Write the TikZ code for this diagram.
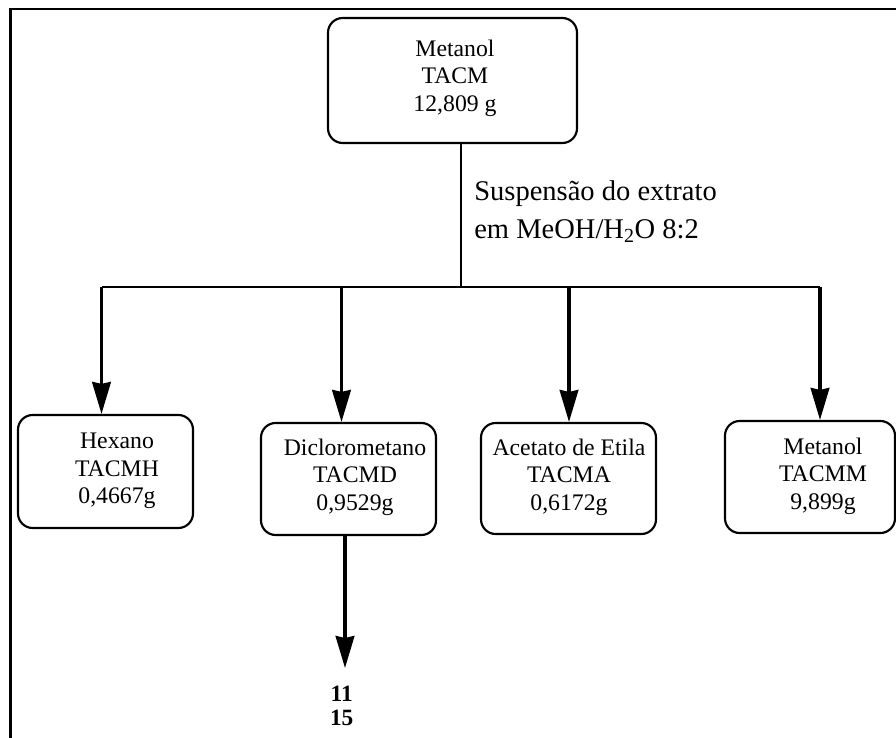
\documentclass[tikz,border=0pt]{standalone}
\usepackage{fontspec}
\setmainfont{Liberation Serif}
\usetikzlibrary{arrows.meta}
\begin{document}
\begin{tikzpicture}[x=0.75pt,y=-0.75pt,
  box/.style={draw, line width=1.6pt, rounded corners=11pt, inner sep=0pt, rectangle},
  boxtext/.style={align=center, font=\fontsize{17.8}{20.5}\selectfont, inner sep=0pt},
  conn/.style={line width=1.7pt},
  arr/.style={line width=2.4pt, -{Stealth[length=24pt,width=14pt,inset=1.5pt]}},
]
\useasboundingbox (0,0) rectangle (896,738);
\draw[line width=2pt] (10.5,738) -- (10.5,9) -- (896,9);

% boxes
\node[box, minimum width=186.75pt, minimum height=93.75pt] (top) at (452.5,80.5) {};
\node[boxtext] (toptxt) at (455,78) {Metanol\\TACM\\12,809 g};

\node[box, minimum width=131.25pt, minimum height=84.75pt] (hx) at (105.5,471.5) {};
\node[boxtext] (hxtxt) at (117,471) {Hexano\\TACMH\\0,4667g};

\node[box, minimum width=131.25pt, minimum height=84pt] (dc) at (348.5,479) {};
\node[boxtext] (dctxt) at (355,477) {Diclorometano\\TACMD\\0,9529g};

\node[box, minimum width=131.25pt, minimum height=83.25pt] (ac) at (568.5,478.5) {};
\node[boxtext] (actxt) at (569,477) {Acetato de Etila\\TACMA\\0,6172g};

\node[box, minimum width=127.5pt, minimum height=84pt] (me) at (810,477) {};
\node[boxtext] (metxt) at (823,476) {Metanol\\TACMM\\9,899g};

% trunk and bus
\coordinate (trunk) at (461,287);
\coordinate (jh) at (101.5,287);
\coordinate (jd) at (341.5,287);
\coordinate (ja) at (569,287);
\coordinate (jm) at (820,287);
\draw[conn] (trunk |- top.south) -- (trunk);
\draw[conn] (jh) -- (jm);

\draw[arr] (jh) -- (jh |- hx.north);
\draw[arr] (jd) -- (jd |- dc.north);
\draw[arr] (ja) -- (ja |- ac.north);
\draw[arr] (jm) -- (jm |- me.north);

% label
\node[anchor=north west, align=left, inner sep=0pt,
      font=\fontsize{21.4}{28.5}\selectfont] (lbl) at (474,180)
  {Suspensão do extrato\\em MeOH/H\textsubscript{2}O 8:2};

% lower arrow and result
\coordinate (dcout) at (345,668);
\draw[arr] (dcout |- dc.south) -- (dcout);
\node[align=center, inner sep=0pt, font=\fontsize{17.5}{18}\bfseries] (res) at (341.7,706) {11\\15};
\end{tikzpicture}
\end{document}
